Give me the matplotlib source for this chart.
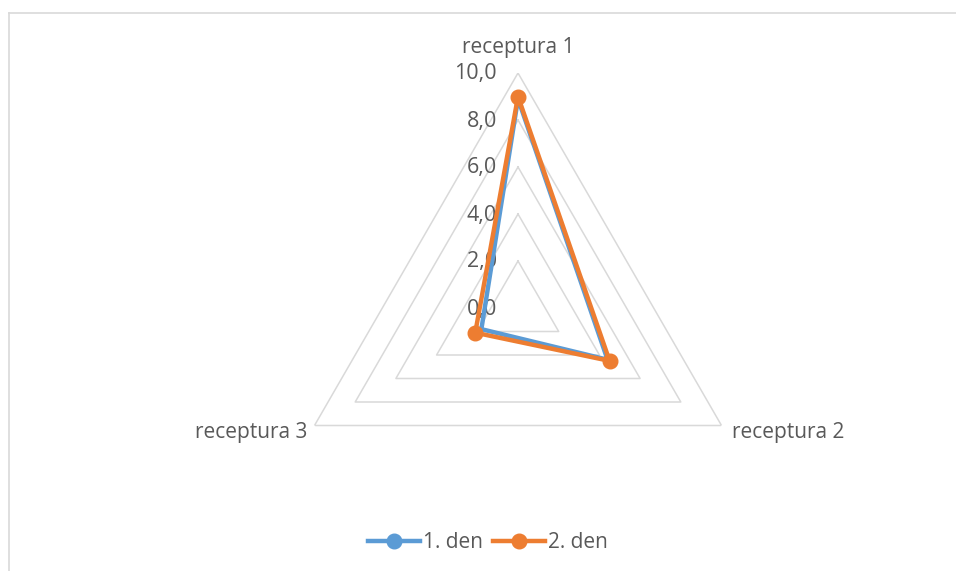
import numpy as np
import matplotlib
matplotlib.use("Agg")
import matplotlib.pyplot as plt
from matplotlib.lines import Line2D

# Data
categories = ["receptura 1", "receptura 2", "receptura 3"]
den1 = [8.9, 4.4, 1.8]
den2 = [9.0, 4.5, 2.1]
series_names = ["1. den", "2. den"]
grid_levels = [2, 4, 6, 8, 10]
tick_labels = ["0,0", "2,0", "4,0", "6,0", "8,0", "10,0"]
tick_values = [0, 2, 4, 6, 8, 10]

BLUE = "#5B9BD5"
ORANGE = "#ED7D31"
GRID = "#D9D9D9"
TEXT = "#595959"
FONT = ["Open Sans", "DejaVu Sans"]
LW = 3.2
MS = 10.5

W, H = 956, 571
fig = plt.figure(figsize=(W / 100, H / 100), dpi=100)

# Chart frame (top and left edges)
fig.add_artist(Line2D([9 / W, 9 / W], [0, 1 - 13 / H], transform=fig.transFigure,
                      color=GRID, lw=1.2))
fig.add_artist(Line2D([9 / W, 1], [1 - 13 / H, 1 - 13 / H], transform=fig.transFigure,
                      color=GRID, lw=1.2))

# Polar axes: centre at (518, 308) px, radius 235 px for value 10
cx, cy, R = 518, 308, 235
ax = fig.add_axes([(cx - R) / W, (H - cy - R) / H, 2 * R / W, 2 * R / H],
                  projection="polar")
ax.set_theta_zero_location("N")
ax.set_theta_direction(-1)
ax.set_ylim(0, 10)
ax.grid(False)
ax.spines["polar"].set_visible(False)
ax.set_xticks([])
ax.set_yticks([])
ax.patch.set_alpha(0)

n = len(categories)
theta = np.linspace(0, 2 * np.pi, n, endpoint=False)
theta_closed = np.append(theta, theta[0])

# Triangular gridlines
for lvl in grid_levels:
    ax.plot(theta_closed, [lvl] * (n + 1), color=GRID, lw=1.1, zorder=1)

# Value labels along the first spoke
for v, lab in zip(tick_values, tick_labels):
    ax.annotate(lab, xy=(0, v), xytext=(-21, -1), textcoords="offset pixels",
                ha="right", va="center", fontsize=15.5, color=TEXT, family=FONT,
                annotation_clip=False)

# Category labels
offsets = [((0, 26), "center", "center"),
           ((10, -7), "left", "center"),
           ((-7, -7), "right", "center")]
for t, cat, (off, ha, va) in zip(theta, categories, offsets):
    ax.annotate(cat, xy=(t, 10), xytext=off, textcoords="offset pixels",
                ha=ha, va=va, fontsize=15, color=TEXT, family=FONT,
                annotation_clip=False)

# Series: first day drawn as a plain line, second day with markers
ax.plot(theta_closed, den1 + den1[:1], color=BLUE, lw=LW, zorder=3,
        solid_joinstyle="miter", clip_on=False)
ax.plot(theta_closed, den2 + den2[:1], color=ORANGE, lw=LW, marker="o",
        markersize=MS, markevery=list(range(n)), zorder=4,
        solid_joinstyle="miter", clip_on=False)

handles = [Line2D([], [], color=BLUE, lw=LW, marker="o", markersize=MS),
           Line2D([], [], color=ORANGE, lw=LW, marker="o", markersize=MS)]
leg = fig.legend(handles, series_names, loc="center", bbox_to_anchor=(488 / W, 1 - 543 / H),
                 ncol=2, frameon=False, handlelength=2.5, handletextpad=0.15,
                 columnspacing=0.5, prop={"family": FONT, "size": 15})
for t in leg.get_texts():
    t.set_color(TEXT)

fig.savefig("out.png", dpi=100)
